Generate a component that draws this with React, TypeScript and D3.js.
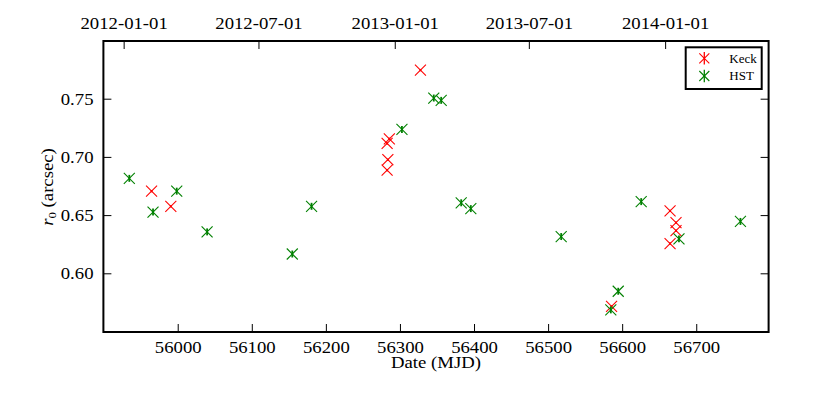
import React from "react";
import * as d3 from "d3";

if (typeof document !== "undefined") document.body.style.margin = "0";

// Keck measurements
const keckMJD = [55964, 55990, 56282, 56283, 56282, 56285, 56327, 56585, 56664, 56672, 56672, 56664];
const keckR0 = [0.671, 0.658, 0.689, 0.698, 0.712, 0.716, 0.775, 0.572, 0.654, 0.644, 0.637, 0.626];
const keckErr = [0.001, 0.001, 0.001, 0.001, 0.001, 0.001, 0.001, 0.001, 0.001, 0.001, 0.001, 0.001];

// HST measurements
const hstMJD = [55934, 55966, 55998, 56039, 56154, 56180, 56302, 56345, 56355, 56382, 56395, 56517, 56584, 56594, 56625, 56676, 56759];
const hstR0 = [0.682, 0.653, 0.671, 0.636, 0.617, 0.658, 0.724, 0.751, 0.749, 0.661, 0.656, 0.632, 0.569, 0.585, 0.662, 0.630, 0.645];
const hstErr = [0.003, 0.003, 0.003, 0.003, 0.003, 0.003, 0.003, 0.003, 0.003, 0.003, 0.003, 0.003, 0.003, 0.003, 0.003, 0.003, 0.003];

const xTicks = [56000, 56100, 56200, 56300, 56400, 56500, 56600, 56700];
const yTicks = [0.6, 0.65, 0.7, 0.75];
const dateTicks = ["2012-01-01", "2012-07-01", "2013-01-01", "2013-07-01", "2014-01-01"];

const W = 830, H = 415;
const L = 103.4, R = 768.6, T = 41, B = 332;
const SX = 1.17;
const FONT = "'Liberation Serif', 'Times New Roman', serif";

const RED = "#ff0000";
const GREEN = "#008000";

const mjdOf = (s: string) => (Date.parse(s + "T00:00:00Z") - Date.UTC(1858, 10, 17)) / 86400000;

function STxt({ x, y, children, anchor = "middle", size = 16, rotate = 0 }: any) {
  return (
    <text
      transform={`translate(${x},${y}) rotate(${rotate}) scale(${SX},1)`}
      textAnchor={anchor}
      fontFamily={FONT}
      fontSize={size}
      fill="#000"
    >
      {children}
    </text>
  );
}

function XMark({ cx, cy, color, s = 5.5 }: any) {
  return (
    <g stroke={color} strokeWidth={1.1}>
      <line x1={cx - s} y1={cy - s} x2={cx + s} y2={cy + s} />
      <line x1={cx - s} y1={cy + s} x2={cx + s} y2={cy - s} />
    </g>
  );
}

export default function App() {
  const x = d3.scaleLinear().domain([55899, 56797]).range([L, R]);
  const y = d3.scaleLinear().domain([0.55, 0.8]).range([B, T]);

  const series = [
    { name: "Keck", color: RED, mjd: keckMJD, r0: keckR0, err: keckErr },
    { name: "HST", color: GREEN, mjd: hstMJD, r0: hstR0, err: hstErr },
  ];

  return (
    <svg width={W} height={H} style={{ display: "block", background: "#fff" }}>
      <rect x={0} y={0} width={W} height={H} fill="#fff" />
      {/* data */}
      {series.map((s) => (
        <g key={s.name}>
          {s.mjd.map((m, i) => (
            <g key={i}>
              <line
                x1={x(m)}
                x2={x(m)}
                y1={y(s.r0[i] - s.err[i])}
                y2={y(s.r0[i] + s.err[i])}
                stroke={s.color}
                strokeWidth={1.8}
              />
              <XMark cx={x(m)} cy={y(s.r0[i])} color={s.color} />
            </g>
          ))}
        </g>
      ))}

      {/* ticks */}
      <g stroke="#000" strokeWidth={1}>
        {xTicks.map((t) => (
          <line key={t} x1={x(t)} x2={x(t)} y1={B} y2={B - 8} />
        ))}
        {dateTicks.map((d) => (
          <line key={d} x1={x(mjdOf(d))} x2={x(mjdOf(d))} y1={T} y2={T + 8} />
        ))}
        {yTicks.map((t) => (
          <g key={t}>
            <line x1={L} x2={L + 8} y1={y(t)} y2={y(t)} />
            <line x1={R} x2={R - 8} y1={y(t)} y2={y(t)} />
          </g>
        ))}
      </g>

      {/* frame */}
      <rect x={L} y={T} width={R - L} height={B - T} fill="none" stroke="#000" strokeWidth={2} />

      {/* tick labels */}
      {xTicks.map((t) => (
        <STxt key={t} x={x(t)} y={353}>
          {d3.format("d")(t)}
        </STxt>
      ))}
      {dateTicks.map((d) => (
        <STxt key={d} x={x(mjdOf(d))} y={29}>
          {d}
        </STxt>
      ))}
      {yTicks.map((t) => (
        <STxt key={t} x={93.5} y={y(t) + 5.5} anchor="end">
          {d3.format(".2f")(t)}
        </STxt>
      ))}

      {/* axis labels */}
      <STxt x={(L + R) / 2} y={368}>
        Date (MJD)
      </STxt>
      <text
        transform={`translate(53,187) rotate(-90) scale(${SX},1)`}
        textAnchor="middle"
        fontFamily={FONT}
        fontSize={16}
        fill="#000"
      >
        <tspan fontStyle="italic">r</tspan>
        <tspan fontSize={11} dy={3}>0</tspan>
        <tspan dy={-3}> (arcsec)</tspan>
      </text>

      {/* legend */}
      <rect x={685.7} y={47.3} width={76} height={41.7} fill="#fff" stroke="#000" strokeWidth={2} />
      {series.map((s, i) => {
        const ly = 58.3 + i * 17.7;
        return (
          <g key={s.name}>
            <line x1={704.3} x2={704.3} y1={ly - 6.3} y2={ly + 6.3} stroke={s.color} strokeWidth={1.3} />
            <XMark cx={704.3} cy={ly} color={s.color} s={5} />
            <text x={729.3} y={ly + 4.4} fontFamily={FONT} fontSize={13} fill="#000">
              {s.name}
            </text>
          </g>
        );
      })}
    </svg>
  );
}
